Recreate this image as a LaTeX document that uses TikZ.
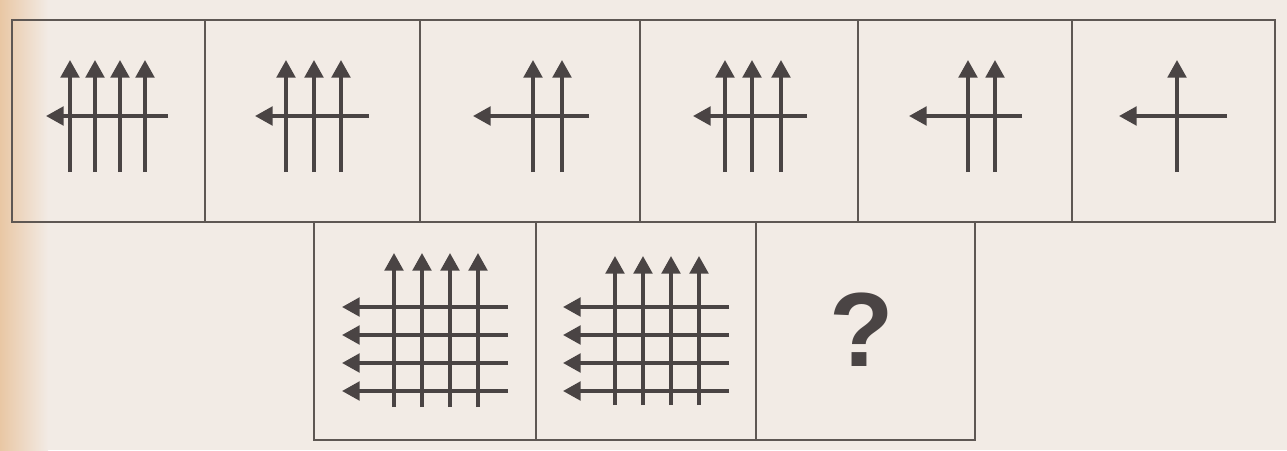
\documentclass[tikz,border=0pt]{standalone}
\usepackage{fontspec}
\setsansfont{Liberation Sans}
\usetikzlibrary{arrows.meta}
\definecolor{paper}{HTML}{F2EBE5}
\definecolor{edge}{HTML}{E9C7A4}
\definecolor{ink}{HTML}{4A4444}
\definecolor{rule}{HTML}{5E5753}
\tikzset{
  panel/.style={draw=rule,line width=0.8pt},
  shaft/.style={draw=ink,line width=2.1pt,-{Triangle[length=10pt,width=10.5pt]}},
}
% one top-row figure: left end, right end, list of vertical positions
\newcommand{\rowfig}[3]{%
  \draw[shaft] (#2,116) -- (#1,116);
  \foreach \vx in {#3} \draw[shaft] (\vx,172) -- (\vx,60);
}
% one bottom-row grid: first vertical, left tip, right end, top tip, bottom end
\newcommand{\gridfig}[5]{%
  \foreach \k in {0,...,3} {
    \draw[shaft] (#3,307+28*\k) -- (#2,307+28*\k);
    \draw[shaft] (#1+28*\k,#5) -- (#1+28*\k,#4);
  }
}

\begin{document}
\begin{tikzpicture}[x=0.02cm,y=-0.02cm]
  \useasboundingbox (0,0) rectangle (1287,450);
  \fill[paper] (0,0) rectangle (1287,450);
  \fill[left color=edge,right color=paper] (0,0) rectangle (48,450);

  % top row of six panels
  \draw[panel] (12,20) rectangle (1275,222);
  \foreach \px in {205,420,640,858,1072} \draw[panel] (\px,20) -- (\px,222);

  % bottom row of three panels
  \draw[panel] (314,222) rectangle (975,440);
  \foreach \px in {536,756} \draw[panel] (\px,222) -- (\px,440);

  \rowfig{46}{168}{70,95,120,145}
  \rowfig{255}{369}{286,314,341}
  \rowfig{473}{589}{533,562}
  \rowfig{693}{807}{725,752,781}
  \rowfig{909}{1022}{968,995}
  \rowfig{1119}{1227}{1177}

  \gridfig{394}{342}{508}{253}{407}
  \gridfig{615}{563}{729}{256}{405}

  \node[text=ink,font=\sffamily\bfseries\fontsize{60}{64}\selectfont] (ask) at (862,330) {?};
\end{tikzpicture}
\end{document}
